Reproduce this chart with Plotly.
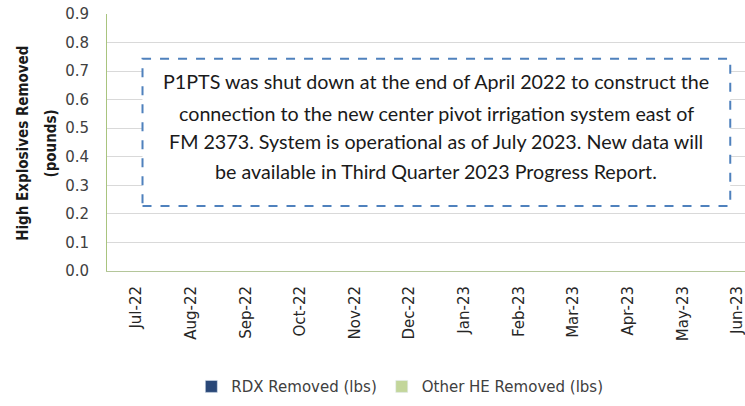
import plotly.graph_objects as go

# months on the category axis
months = ['Jul-22', 'Aug-22', 'Sep-22', 'Oct-22', 'Nov-22', 'Dec-22',
          'Jan-23', 'Feb-23', 'Mar-23', 'Apr-23', 'May-23', 'Jun-23']

# no data this period (system shut down)
rdx_removed = [None, None, None, None, None, None, None, None, None, None, None, None]
other_he_removed = [None, None, None, None, None, None, None, None, None, None, None, None]

y_ticks = [0.0, 0.1, 0.2, 0.3, 0.4, 0.5, 0.6, 0.7, 0.8, 0.9]

note_lines = [
    'P1PTS was shut down at the end of April 2022 to construct the',
    'connection to the new center pivot irrigation system east of',
    'FM 2373. System is operational as of July 2023. New data will',
    'be available in Third Quarter 2023 Progress Report.',
]

fig = go.Figure()

fig.add_trace(go.Bar(
    x=months, y=rdx_removed, name='RDX Removed (lbs)',
    marker=dict(color='#2A4878'),
))
fig.add_trace(go.Bar(
    x=months, y=other_he_removed, name='Other HE Removed (lbs)',
    marker=dict(color='#C3D69B'),
))

# dashed note box
fig.add_shape(
    type='rect', xref='x', yref='y',
    x0=0.11, x1=10.87, y0=0.228, y1=0.743,
    line=dict(color='#4F81BD', width=2, dash='dash'),
    fillcolor='white', layer='above',
)

line_y = [0.662, 0.553, 0.452, 0.347]
for txt, yy in zip(note_lines, line_y):
    fig.add_annotation(
        x=5.49, y=yy, xref='x', yref='y', text=txt, showarrow=False,
        font=dict(family='Lato, Open Sans, sans-serif', size=19.7, color='#1a1a1a'),
        xanchor='center', yanchor='middle',
    )

# y-axis title as two rotated lines
title_font = dict(family='DejaVu Sans Condensed, DejaVu Sans, sans-serif', size=15, color='#1a1a1a')
fig.add_annotation(
    x=-0.132, y=0.498, xref='paper', yref='paper', text='<b>High Explosives Removed</b>',
    textangle=-90, showarrow=False, xanchor='center', yanchor='middle', font=title_font,
)
fig.add_annotation(
    x=-0.087, y=0.498, xref='paper', yref='paper', text='<b>(pounds)</b>',
    textangle=-90, showarrow=False, xanchor='center', yanchor='middle', font=title_font,
)

fig.update_layout(
    width=745, height=406,
    margin=dict(l=107, r=0, t=14, b=135),
    paper_bgcolor='white', plot_bgcolor='white',
    barmode='stack',
    showlegend=True,
    legend=dict(orientation='h', x=0.459, xanchor='center', y=-0.45, yanchor='middle',
                traceorder='normal',
                font=dict(family='DejaVu Sans, sans-serif', size=15, color='#404040'),
                itemwidth=30),
    xaxis=dict(
        type='category', categoryorder='array', categoryarray=months,
        range=[-0.54, 11.14], tickangle=-90, automargin=False,
        showgrid=False, showline=True, linecolor='#B4C69A', linewidth=1,
        ticks='', ticklabelstandoff=8,
        tickfont=dict(family='DejaVu Sans, sans-serif', size=15, color='#262626'),
        fixedrange=True,
    ),
    yaxis=dict(
        range=[0, 0.9], tickvals=y_ticks, tickformat='.1f', automargin=False,
        showgrid=True, gridcolor='#D9D9D9', gridwidth=1,
        showline=True, linecolor='#A9C47F', linewidth=1,
        zeroline=False, ticks='', ticklabelstandoff=14,
        tickfont=dict(family='DejaVu Sans, sans-serif', size=15, color='#404040'),
        fixedrange=True,
    ),
)

# drop the default page margin so the figure sits at the window corner
fig.write_html('out.html', config={'displayModeBar': False},
               post_script="document.body.style.margin='0';")
